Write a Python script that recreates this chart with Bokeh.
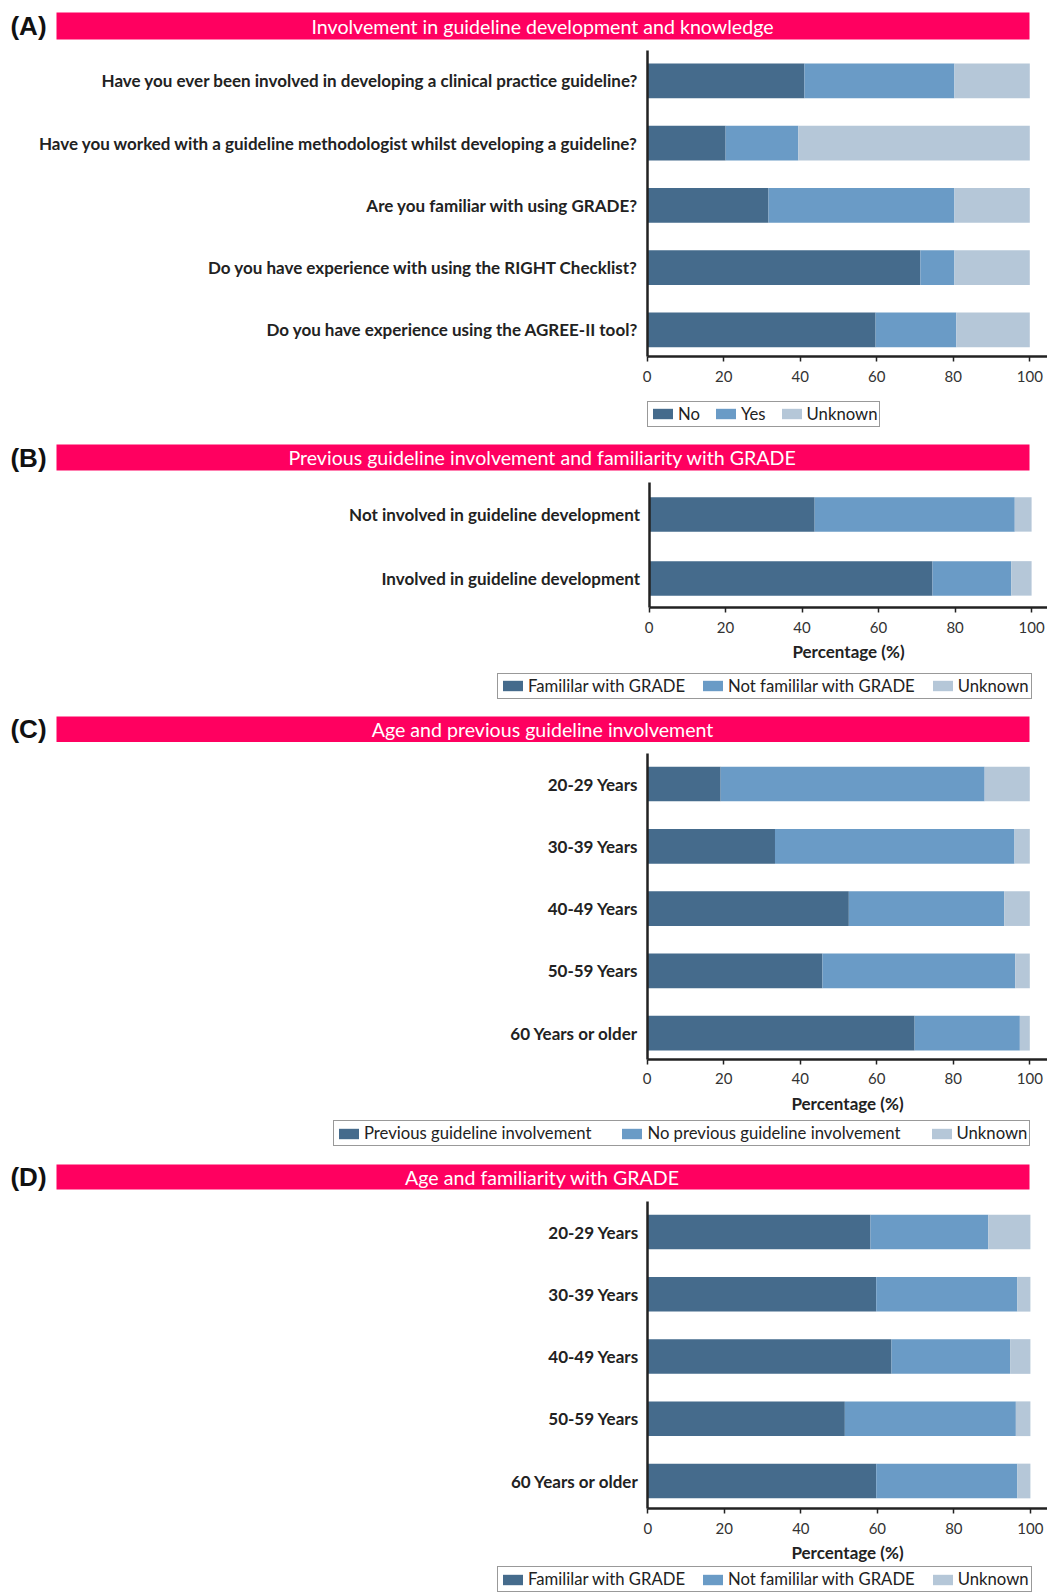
from bokeh.plotting import figure
from bokeh.models import (ColumnDataSource, Range1d, FixedTicker, Legend,
                          LegendItem, BoxAnnotation, Label)
from bokeh.layouts import column
from bokeh.embed import file_html
from bokeh.resources import INLINE

FONT = "Lato"
DARK, MID, LIGHT = "#456b8c", "#6a9bc6", "#b5c7d8"
BANNER = "#ff0060"
INK = "#222222"
PAGE_W = 1047
PX_PER_PCT = 3.826          # horizontal pixels per percentage point

# (A) involvement in guideline development and knowledge
questions = [
    "Have you ever been involved in developing a clinical practice guideline?",
    "Have you worked with a guideline methodologist whilst developing a guideline?",
    "Are you familiar with using GRADE?",
    "Do you have experience with using the RIGHT Checklist?",
    "Do you have experience using the AGREE-II tool?",
]
answer_labels = ["No", "Yes", "Unknown"]
a_no = [41.1, 20.5, 31.7, 71.4, 59.7]
a_yes = [39.2, 19.0, 48.6, 8.9, 21.1]
a_unknown = [19.7, 60.5, 19.7, 19.7, 19.2]

# (B) previous involvement vs familiarity with GRADE
involvement_groups = [
    "Not involved in guideline development",
    "Involved in guideline development",
]
grade_labels = ["Famililar with GRADE", "Not famililar with GRADE", "Unknown"]
b_familiar = [43.3, 74.1]
b_not_familiar = [52.3, 20.6]
b_unknown = [4.4, 5.3]

# (C) age vs previous involvement
age_groups = ["20-29 Years", "30-39 Years", "40-49 Years", "50-59 Years",
              "60 Years or older"]
involvement_labels = ["Previous guideline involvement",
                      "No previous guideline involvement", "Unknown"]
c_previous = [19.2, 33.4, 52.7, 45.8, 69.9]
c_no_previous = [69.0, 62.6, 40.6, 50.4, 27.5]
c_unknown = [11.8, 4.0, 6.7, 3.8, 2.6]

# (D) age vs familiarity with GRADE
d_familiar = [58.2, 59.7, 63.7, 51.5, 59.7]
d_not_familiar = [30.8, 36.9, 31.0, 44.7, 36.9]
d_unknown = [11.0, 3.4, 5.3, 3.8, 3.4]

x_ticks = [0, 20, 40, 60, 80, 100]


def panel(tag, heading, cats, series, names, height, zero_px, first_px, step_px,
          axis_px, top_px, bar_px, banner_px, legend_px, legend_spacing,
          x_label=None):
    """One titled panel of 100 % stacked horizontal bars.

    The frame fills the whole figure; both axes are pinned with
    fixed_location so the heading strip and the legend sit inside it.
    """
    n = len(cats)
    ys = [n - 1 - i for i in range(n)]

    def y_at(py):   # vertical pixel (from figure top) -> category units
        return (n - 1) - (py - first_px) / step_px

    def x_at(px):   # horizontal pixel -> percentage units
        return (px - zero_px) / PX_PER_PCT

    keys = ["s0", "s1", "s2"]
    src = ColumnDataSource(dict(y=ys, s0=series[0], s1=series[1], s2=series[2]))

    p = figure(width=PAGE_W, height=height,
               x_range=Range1d(x_at(0), x_at(PAGE_W)),
               y_range=Range1d(y_at(height), y_at(0)),
               min_border=0, output_backend="svg", toolbar_location=None)
    p.outline_line_color = None
    p.xgrid.visible = False
    p.ygrid.visible = False

    bars = p.hbar_stack(keys, y="y", height=bar_px / step_px, source=src,
                        fill_color=[DARK, MID, LIGHT], line_color=None)

    y_axis_bottom = y_at(axis_px)

    xa = p.xaxis[0]
    xa.fixed_location = y_axis_bottom
    xa.bounds = (0, x_at(PAGE_W))
    xa.ticker = FixedTicker(ticks=x_ticks)
    xa.minor_tick_line_color = None
    xa.major_tick_out = 5
    xa.major_tick_in = 0
    xa.major_tick_line_color = INK
    xa.major_tick_line_width = 1.5
    xa.axis_line_color = INK
    xa.axis_line_width = 2.5
    xa.major_label_text_font = FONT
    xa.major_label_text_font_size = "15px"
    xa.major_label_text_color = "#333333"
    xa.major_label_standoff = 9
    if x_label:
        xa.axis_label = x_label
        xa.axis_label_text_font = FONT
        xa.axis_label_text_font_style = "bold"
        xa.axis_label_text_font_size = "17px"
        xa.axis_label_text_color = INK
        xa.axis_label_standoff = 5

    ya = p.yaxis[0]
    ya.fixed_location = 0
    ya.bounds = (y_axis_bottom, y_at(top_px))
    ya.ticker = FixedTicker(ticks=ys)
    ya.major_label_overrides = {y: c for y, c in zip(ys, cats)}
    ya.major_tick_line_color = None
    ya.minor_tick_line_color = None
    ya.axis_line_color = INK
    ya.axis_line_width = 2.5
    ya.major_label_text_font = FONT
    ya.major_label_text_font_style = "bold"
    ya.major_label_text_font_size = "17px"
    ya.major_label_text_color = INK
    ya.major_label_standoff = 3

    # heading strip with the panel letter on its left
    b_top, b_bottom = banner_px
    p.add_layout(BoxAnnotation(left=x_at(56), right=x_at(1029),
                               top=y_at(b_top), bottom=y_at(b_bottom),
                               fill_color=BANNER, fill_alpha=1, line_color=None))
    mid = y_at((b_top + b_bottom) / 2)
    p.add_layout(Label(x=x_at(542), y=mid, text=heading, text_align="center",
                       text_baseline="middle", text_color="white",
                       text_font=FONT, text_font_size="19.6px"))
    p.add_layout(Label(x=x_at(28), y=mid, text=tag, text_align="center",
                       text_baseline="middle", text_color="#111111",
                       text_font="Liberation Sans", text_font_style="bold",
                       text_font_size="26px"))

    leg_left, leg_bottom = legend_px
    legend = Legend(items=[LegendItem(label=nm, renderers=[r])
                           for nm, r in zip(names, bars)],
                    location=(leg_left, height - leg_bottom),
                    orientation="horizontal",
                    glyph_width=25, glyph_height=13, label_height=14,
                    label_standoff=3, spacing=legend_spacing, padding=2,
                    margin=0, label_text_font=FONT,
                    label_text_font_size="16.7px", label_text_color=INK,
                    border_line_color="#333333", border_line_width=1.5,
                    background_fill_alpha=1)
    p.add_layout(legend)
    return p


pa = panel("(A)", "Involvement in guideline development and knowledge",
           questions, [a_no, a_yes, a_unknown], answer_labels,
           height=436, zero_px=646.7, first_px=80.3, step_px=62.25,
           axis_px=356, top_px=50, bar_px=34.7, banner_px=(12, 39),
           legend_px=(647, 426.7), legend_spacing=13)

pb = panel("(B)", "Previous guideline involvement and familiarity with GRADE",
           involvement_groups, [b_familiar, b_not_familiar, b_unknown],
           grade_labels, height=270, zero_px=648.5, first_px=77.9, step_px=64,
           axis_px=171, top_px=46.4, bar_px=34.5, banner_px=(8, 34),
           legend_px=(497, 262.5), legend_spacing=15,
           x_label="Percentage (%)")

pc = panel("(C)", "Age and previous guideline involvement",
           age_groups, [c_previous, c_no_previous, c_unknown],
           involvement_labels, height=448, zero_px=646.7, first_px=77.5,
           step_px=62.3, axis_px=352.5, top_px=47.3, bar_px=34.7,
           banner_px=(10, 35.4), legend_px=(333, 440), legend_spacing=28,
           x_label="Percentage (%)")

pd_ = panel("(D)", "Age and familiarity with GRADE",
            age_groups, [d_familiar, d_not_familiar, d_unknown],
            grade_labels, height=438, zero_px=647.3, first_px=77.5,
            step_px=62.25, axis_px=354, top_px=46.7, bar_px=34.7,
            banner_px=(10, 35), legend_px=(497, 438), legend_spacing=15,
            x_label="Percentage (%)")

layout = column(pa, pb, pc, pd_, spacing=0)
open("out.html", "w").write(file_html(layout, INLINE))
